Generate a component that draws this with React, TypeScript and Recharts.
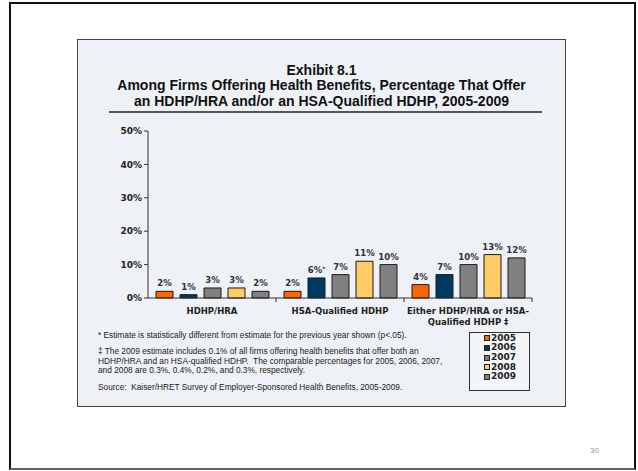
import { BarChart, Bar, XAxis, YAxis, LabelList, Legend } from "recharts";

// categories on the x axis (label lines as drawn on the slide)
const categories = ["HDHP/HRA", "HSA-Qualified HDHP", "Either HDHP/HRA or HSA-Qualified HDHP ‡"];
const categoryLines = [["HDHP/HRA"], ["HSA-Qualified HDHP"], ["Either HDHP/HRA or HSA-", "Qualified HDHP ‡"]];

const years = ["2005", "2006", "2007", "2008", "2009"];
const values2005 = [2, 2, 4];
const values2006 = [1, 6, 7];
const values2007 = [3, 7, 10];
const values2008 = [3, 11, 13];
const values2009 = [2, 10, 12];
// * = statistically different from previous year
const significant2006 = [false, true, false];

const yTicks = [0, 10, 20, 30, 40, 50];
const yearColors = ["#ff6600", "#003a63", "#808080", "#ffcc66", "#808080"];

const chartFont = "'DejaVu Sans', Verdana, sans-serif";
const textFont = "'Liberation Sans', Arial, sans-serif";

const data = categories.map((category, i) => ({
  category,
  y2005: values2005[i],
  y2006: values2006[i],
  y2007: values2007[i],
  y2008: values2008[i],
  y2009: values2009[i],
}));

const makeLabel = (sig?: boolean[]) => (props: any) => {
  const { x, y, width, value, index } = props;
  return (
    <text
      x={x + width / 2}
      y={y - 5}
      textAnchor="middle"
      fontSize={8.5}
      fontWeight="bold"
      fill="#333"
      fontFamily={chartFont}
    >
      {value}%
      {sig && sig[index] ? <tspan fontSize={6} dy={-2}>*</tspan> : null}
    </text>
  );
};

const BAND = 384 / categories.length;

const CategoryTick = (props: any) => {
  const { x, y, index } = props;
  const lines: string[] = categoryLines[index] || [];
  return (
    <g>
      <line x1={x + BAND / 2} x2={x + BAND / 2} y1={y} y2={y + 4} stroke="#333" strokeWidth={1} />
      {lines.map((l, i) => (
        <text
          key={i}
          x={x}
          y={y + 16 + i * 10.5}
          textAnchor="middle"
          fontSize={8.5}
          fontWeight="bold"
          fill="#222"
          fontFamily={chartFont}
        >
          {l}
        </text>
      ))}
    </g>
  );
};

const LegendBox = (props: any) => {
  const { payload } = props;
  return (
    <div
      style={{
        width: 61,
        height: 59,
        boxSizing: "border-box",
        border: "1.5px solid #333",
        background: "#f3f5f8",
        paddingTop: 0.5,
        paddingLeft: 13.5,
      }}
    >
      {(payload || []).map((entry: any) => (
        <div
          key={entry.value}
          style={{ display: "flex", alignItems: "center", height: 9.7 }}
        >
          <div
            style={{
              flex: "0 0 auto",
              width: 6,
              height: 6,
              boxSizing: "border-box",
              background: entry.color,
              border: "1px solid #222",
              marginRight: 1.5,
            }}
          />
          <div
            style={{
              fontFamily: chartFont,
              fontWeight: "bold",
              fontSize: 9,
              color: "#222",
              lineHeight: "9.7px",
            }}
          >
            {entry.value}
          </div>
        </div>
      ))}
    </div>
  );
};

const footStyle: React.CSSProperties = {
  position: "absolute",
  left: 98,
  fontFamily: textFont,
  fontSize: 8.3,
  color: "#222",
  whiteSpace: "nowrap",
};

export default function App() {
  return (
    <div
      style={{
        position: "absolute",
        left: 0,
        top: 0,
        width: 638,
        height: 471,
        background: "#fff",
        overflow: "hidden",
      }}
    >
      {/* slide frame */}
      <div
        style={{
          position: "absolute",
          left: 9,
          top: 2,
          width: 627,
          height: 468,
          boxSizing: "border-box",
          borderTop: "2px solid #111",
          borderLeft: "2px solid #111",
          borderRight: "2px solid #111",
          borderBottom: "2px solid #666",
        }}
      />
      {/* exhibit panel */}
      <div
        style={{
          position: "absolute",
          left: 77,
          top: 39,
          width: 489,
          height: 368,
          boxSizing: "border-box",
          border: "1px solid #444",
          background: "#eef1f5",
        }}
      />
      <div
        style={{
          position: "absolute",
          left: 77,
          top: 63,
          width: 489,
          textAlign: "center",
          fontFamily: textFont,
          fontWeight: "bold",
          fontSize: 14,
          lineHeight: "15.3px",
          color: "#111",
        }}
      >
        <div>Exhibit 8.1</div>
        <div>Among Firms Offering Health Benefits, Percentage That Offer</div>
        <div>an HDHP/HRA and/or an HSA-Qualified HDHP, 2005-2009</div>
      </div>
      <div
        style={{
          position: "absolute",
          left: 109,
          top: 111,
          width: 433,
          height: 1.5,
          background: "#555",
        }}
      />

      <div style={{ position: "absolute", left: 0, top: 0 }}>
        <BarChart
          width={638}
          height={471}
          data={data}
          margin={{ top: 131, right: 106, bottom: 143, left: 88 }}
          barCategoryGap={8}
          barGap={7}
        >
          <XAxis
            dataKey="category"
            height={30}
            axisLine={{ stroke: "#333", strokeWidth: 1 }}
            tickLine={false}
            tickSize={0}
            tickMargin={0}
            interval={0}
            tick={<CategoryTick />}
          />
          <YAxis
            width={60}
            domain={[0, 50]}
            ticks={yTicks}
            interval={0}
            tickFormatter={(v) => `${v}%`}
            axisLine={{ stroke: "#333", strokeWidth: 1 }}
            tickLine={{ stroke: "#333" }}
            tickSize={4}
            tickMargin={2}
            tick={{ fontSize: 9, fontWeight: "bold", fill: "#222", fontFamily: chartFont }}
          />
          <Legend
            layout="horizontal"
            verticalAlign="middle"
            align="center"
            wrapperStyle={{ left: 469, top: 332, width: 61, height: 59 }}
            content={<LegendBox />}
          />
          {years.map((year, i) => (
            <Bar
              key={year}
              dataKey={`y${year}`}
              name={year}
              fill={yearColors[i]}
              stroke="#1a1a1a"
              strokeWidth={1}
              isAnimationActive={false}
            >
              <LabelList
                dataKey={`y${year}`}
                content={makeLabel(year === "2006" ? significant2006 : undefined)}
              />
            </Bar>
          ))}
        </BarChart>
      </div>

      <div style={{ ...footStyle, top: 330 }}>
        * Estimate is statistically different from estimate for the previous year shown (p&lt;.05).
      </div>
      <div style={{ ...footStyle, top: 347, lineHeight: "9.6px" }}>
        <div>‡ The 2009 estimate includes 0.1% of all firms offering health benefits that offer both an</div>
        <div>HDHP/HRA and an HSA-qualified HDHP.&nbsp; The comparable percentages for 2005, 2006, 2007,</div>
        <div>and 2008 are 0.3%, 0.4%, 0.2%, and 0.3%, respectively.</div>
      </div>
      <div style={{ ...footStyle, top: 381.5 }}>
        Source:&nbsp; Kaiser/HRET Survey of Employer-Sponsored Health Benefits, 2005-2009.
      </div>
      <div
        style={{
          position: "absolute",
          left: 590,
          top: 446,
          fontFamily: textFont,
          fontSize: 8,
          color: "#999",
        }}
      >
        30
      </div>
    </div>
  );
}
